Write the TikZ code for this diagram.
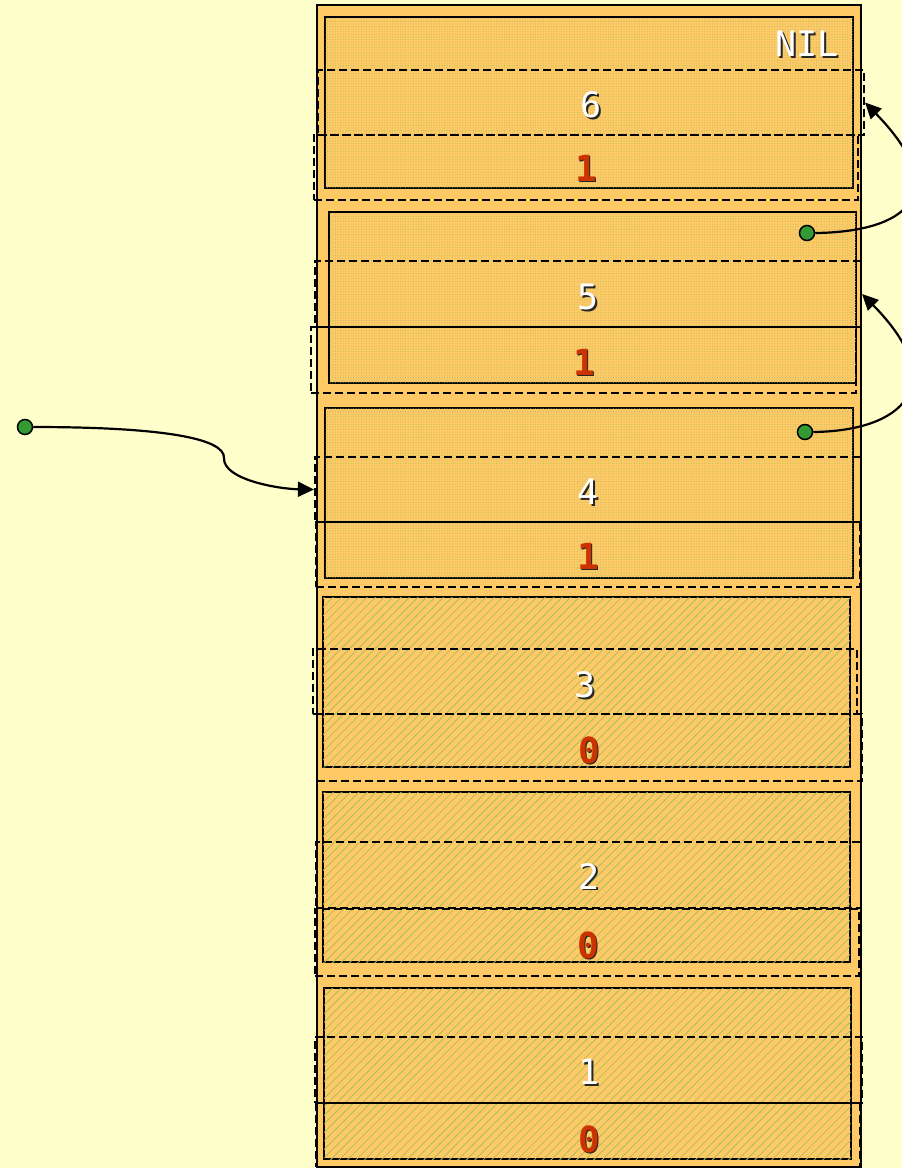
\documentclass[tikz,border=0pt]{standalone}
\usepackage{fontspec}
\newfontfamily\monofont{DejaVu Sans Mono}
\usetikzlibrary{patterns.meta,fit,arrows.meta}
\definecolor{bgc}{HTML}{FFFFCC}
\definecolor{framec}{HTML}{FFC966}
\definecolor{patc}{HTML}{A8C060}
\definecolor{redtxt}{HTML}{CC3300}
\definecolor{dotg}{HTML}{339933}
\newcommand\mylbl[5]{%
  \node[#4, text=black!85] (#1s) at ({#2+1.8},{#3+1.8}) {#5};
  \node[#4] (#1) at (#2,#3) {#5};}
\tikzset{
  wt/.style={inner sep=0pt, text=white, font=\monofont\fontsize{35}{35}\selectfont},
  rd/.style={inner sep=0pt, text=redtxt, font=\monofont\bfseries\fontsize{36}{36}\selectfont},
  recbox/.style={fit={#1}, inner sep=0pt, draw=black, line width=2.4pt},
  dotsfill/.style={fill=framec, postaction={pattern={Dots[distance=2.6pt, radius=0.5pt]}, pattern color=patc}},
  linesfill/.style={fill=framec, postaction={pattern={Lines[angle=45, distance=6pt, line width=0.8pt]}, pattern color=patc}},
  fieldbox/.style={fit={#1}, inner sep=0pt, draw=black, line width=2.2pt, dash pattern=on 8pt off 4pt},
  gdot/.style={circle, fill=dotg, draw=black, line width=1.5pt, minimum size=15pt, inner sep=0pt},
  ptr/.style={line width=2.2pt, -{Triangle[length=16pt, width=15pt]}}
}
\begin{document}
\begin{tikzpicture}[x=1pt, y=-1pt]
\useasboundingbox (0,0) rectangle (902,1168);
\clip (0,0) rectangle (902,1168);
\fill[bgc] (0,0) rectangle (902,1168);
% outer frame
\node[fit={(317,5)(861,1167)}, inner sep=0pt, fill=framec, draw=black, line width=2.6pt] (frame) {};
% records
\node[recbox={(325,17)(853,188)}, dotsfill] (b6) {};
\node[recbox={(329,212)(856,383)}, dotsfill] (b5) {};
\node[recbox={(325,408)(853,578)}, dotsfill] (b4) {};
\node[recbox={(323,597)(850,767)}, linesfill] (b3) {};
\node[recbox={(323,792)(850,962)}, linesfill] (b2) {};
\node[recbox={(324,988)(851,1159)}, linesfill] (b1) {};
% key fields
\node[fieldbox={(318,70)(864,135)}] (k6) {};
\node[fieldbox={(315,261)(861,327)}] (k5) {};
\node[fieldbox={(315,457)(861,522)}] (k4) {};
\node[fieldbox={(313,649)(857,714)}] (k3) {};
\node[fieldbox={(316,842)(861,908)}] (k2) {};
\node[fieldbox={(315,1037)(862,1103)}] (k1) {};
% bit fields
\node[fieldbox={(314,135)(858,200)}] (t6) {};
\node[fieldbox={(311,327)(856,393)}] (t5) {};
\node[fieldbox={(316,522)(860,587)}] (t4) {};
\node[fieldbox={(317,714)(862,781)}] (t3) {};
\node[fieldbox={(315,909)(859,976)}] (t2) {};
\node[fieldbox={(316,1103)(860,1167)}] (t1) {};
% labels
\mylbl{nil}{807}{44}{wt}{NIL}
\mylbl{v6}{591}{105}{wt}{6}
\mylbl{r6}{586}{168}{rd}{1}
\mylbl{v5}{588}{297}{wt}{5}
\mylbl{r5}{584}{362}{rd}{1}
\mylbl{v4}{588}{492}{wt}{4}
\mylbl{r4}{588}{556}{rd}{1}
\mylbl{v3}{585}{685}{wt}{3}
\mylbl{r3}{589}{750}{rd}{0}
\mylbl{v2}{589}{876}{wt}{2}
\mylbl{r2}{588}{945}{rd}{0}
\mylbl{v1}{589}{1072}{wt}{1}
\mylbl{r1}{589}{1139}{rd}{0}
% pointer dots
\node[gdot] (d5) at (807,233) {};
\node[gdot] (d4) at (805,432) {};
\node[gdot] (d0) at (25,427) {};
% pointers
\draw[ptr] (d5.east) .. controls (905,232) and (955,195) .. (k6.east);
\draw[ptr] (d4.east) .. controls (903,431) and (952,385) .. (k5.east);
\coordinate (kink) at (224,458);
\draw[ptr] (d0.east) .. controls (160,427) and (225,438) .. (kink) .. controls (223,480) and (280,489) .. (k4.west);
\end{tikzpicture}
\end{document}
